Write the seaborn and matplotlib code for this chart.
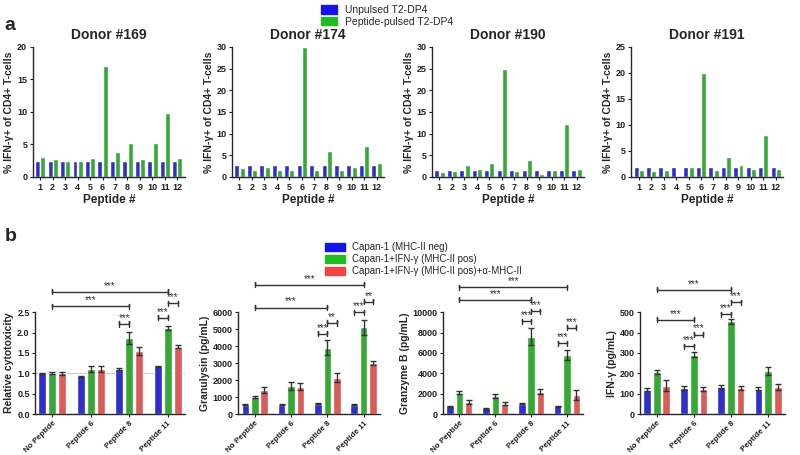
import numpy as np
import pandas as pd
import matplotlib
matplotlib.use('Agg')
import matplotlib.pyplot as plt
import seaborn as sns
from matplotlib.patches import Patch

# ──────────────────────────────────────────
# DATA
# ──────────────────────────────────────────
peptides = [str(i) for i in range(1, 13)]
donors = ['Donor #169', 'Donor #174', 'Donor #190', 'Donor #191']
donor_ymax = [20, 30, 30, 25]

unpulsed_169 = [2.5] * 12
pulsed_169 = [3.0, 2.8, 2.5, 2.4, 2.9, 17.0, 3.8, 5.2, 2.7, 5.3, 9.9, 2.9]
unpulsed_174 = [2.8] * 12
pulsed_174 = [2.0, 1.7, 2.4, 1.7, 1.5, 30.0, 1.6, 5.9, 1.5, 2.3, 7.2, 3.2]
unpulsed_190 = [1.5] * 12
pulsed_190 = [1.2, 1.4, 2.8, 1.8, 3.3, 25.0, 1.4, 4.0, 0.6, 1.6, 12.3, 1.8]
unpulsed_191 = [2.0] * 12
pulsed_191 = [1.4, 1.1, 1.3, 0.0, 1.9, 20.0, 1.4, 3.8, 2.3, 1.5, 8.0, 1.5]

groups_b = ['No Peptide', 'Peptide 6', 'Peptide 8', 'Peptide 11']
conditions = ['Capan-1 (MHC-II neg)', 'Capan-1+IFN-γ (MHC-II pos)',
              'Capan-1+IFN-γ (MHC-II pos)+α-MHC-II']

cyto_blue = [1.0, 0.93, 1.1, 1.17]
cyto_green = [1.0, 1.1, 1.86, 2.1]
cyto_red = [1.0, 1.1, 1.55, 1.65]
cyto_err = [[0.01, 0.01, 0.02, 0.01], [0.02, 0.07, 0.15, 0.05], [0.03, 0.07, 0.1, 0.04]]

gnly_blue = [550, 550, 600, 550]
gnly_green = [1000, 1650, 3900, 5100]
gnly_red = [1400, 1600, 2150, 3000]
gnly_err = [[30, 30, 30, 30], [40, 220, 450, 450], [180, 200, 250, 120]]

gzmb_blue = [750, 550, 1000, 750]
gzmb_green = [2100, 1750, 7600, 5800]
gzmb_red = [1150, 1000, 2200, 1850]
gzmb_err = [[60, 50, 60, 60], [150, 200, 800, 450], [200, 150, 250, 500]]

ifng_blue = [120, 128, 135, 125]
ifng_green = [205, 290, 455, 210]
ifng_red = [140, 125, 128, 133]
ifng_err = [[8, 8, 6, 8], [10, 12, 12, 20], [25, 10, 8, 15]]

# significance brackets: (group_a, hue_a, group_b, hue_b, height, label)
cyto_sig = [(0, 1, 2, 1, 2.64, '***'), (0, 1, 3, 1, 3.0, '***'), (2, 0, 2, 1, 2.21, '***'),
            (3, 0, 3, 1, 2.36, '***'), (3, 1, 3, 2, 2.72, '***')]
gnly_sig = [(0, 1, 2, 1, 6270, '***'), (0, 1, 3, 1, 7600, '***'), (2, 0, 2, 1, 4730, '***'),
            (2, 1, 2, 2, 5360, '**'), (3, 0, 3, 1, 6000, '***'), (3, 1, 3, 2, 6610, '**')]
gzmb_sig = [(0, 1, 2, 1, 11200, '***'), (0, 1, 3, 1, 12450, '***'), (2, 0, 2, 1, 9100, '***'),
            (2, 1, 2, 2, 10100, '***'), (3, 0, 3, 1, 6950, '***'), (3, 1, 3, 2, 8470, '***')]
ifng_sig = [(0, 1, 1, 1, 462, '***'), (0, 1, 2, 1, 610, '***'), (1, 0, 1, 1, 333, '***'),
            (1, 1, 1, 2, 390, '***'), (2, 0, 2, 1, 490, '***'), (2, 1, 2, 2, 548, '***')]

BLUE, GREEN, RED = '#1414e6', '#22bb22', '#f04545'

# ──────────────────────────────────────────
# STYLE
# ──────────────────────────────────────────
sns.set_style('ticks')
plt.rcParams['font.family'] = ['Liberation Sans', 'DejaVu Sans']
plt.rcParams['axes.linewidth'] = 1.0
plt.rcParams['xtick.major.size'] = 2.5
plt.rcParams['ytick.major.size'] = 2.5

fig = plt.figure(figsize=(8, 4.55), dpi=100)

def style_axis(ax, xsize=6.5):
    sns.despine(ax=ax)
    for lbl in ax.get_xticklabels() + ax.get_yticklabels():
        lbl.set_fontweight('bold')
    ax.tick_params(axis='y', labelsize=6.5, pad=1.5, colors='#222222')
    ax.tick_params(axis='x', labelsize=xsize, pad=1.5, colors='#222222')

# ──────────────────────────────────────────
# PANEL a
# ──────────────────────────────────────────
a_left = [0.041, 0.290, 0.540, 0.789]
a_series = [(unpulsed_169, pulsed_169), (unpulsed_174, pulsed_174),
            (unpulsed_190, pulsed_190), (unpulsed_191, pulsed_191)]

for i, (donor, (unp, pul)) in enumerate(zip(donors, a_series)):
    ax = fig.add_axes([a_left[i], 0.611, 0.19, 0.286])
    df = pd.DataFrame({
        'peptide': peptides * 2,
        'value': unp + pul,
        'group': ['Unpulsed T2-DP4'] * 12 + ['Peptide-pulsed T2-DP4'] * 12,
    })
    sns.barplot(data=df, x='peptide', y='value', hue='group', order=peptides,
                palette=[BLUE, GREEN], width=0.85, gap=0.06, errorbar=None,
                legend=False, ax=ax)
    ax.set_xlim(-0.6, 11.6)
    ax.set_ylim(0, donor_ymax[i])
    ax.set_yticks(np.arange(0, donor_ymax[i] + 1, 5))
    ax.set_title(donor, fontsize=10, fontweight='bold', pad=6)
    ax.set_xlabel('Peptide #', fontsize=8.5, fontweight='bold', labelpad=2)
    ax.set_ylabel('% IFN-γ+ of CD4+ T-cells', fontsize=7.5, fontweight='bold', labelpad=2)
    style_axis(ax)

fig.legend(handles=[Patch(color=BLUE, label='Unpulsed T2-DP4'),
                    Patch(color=GREEN, label='Peptide-pulsed T2-DP4')],
           loc='upper left', bbox_to_anchor=(0.392, 1.005), frameon=False,
           fontsize=7.5, handlelength=1.5, handleheight=0.9, labelspacing=0.15,
           borderpad=0.2)

fig.text(0.006, 0.935, 'a', fontsize=14, fontweight='bold')
fig.text(0.006, 0.47, 'b', fontsize=14, fontweight='bold')

# ──────────────────────────────────────────
# PANEL b
# ──────────────────────────────────────────
b_panels = [
    ('Relative cytotoxicity', [cyto_blue, cyto_green, cyto_red], cyto_err, cyto_sig, 2.5, 0.5),
    ('Granulysin (pg/mL)', [gnly_blue, gnly_green, gnly_red], gnly_err, gnly_sig, 6000, 1000),
    ('Granzyme B (pg/mL)', [gzmb_blue, gzmb_green, gzmb_red], gzmb_err, gzmb_sig, 10000, 2000),
    ('IFN-γ (pg/mL)', [ifng_blue, ifng_green, ifng_red], ifng_err, ifng_sig, 500, 100),
]
b_left = [0.044, 0.298, 0.554, 0.800]
b_width = [0.187, 0.177, 0.175, 0.181]

for k, (ylabel, series, errs, sigs, ymax, step) in enumerate(b_panels):
    ax = fig.add_axes([b_left[k], 0.09, b_width[k], 0.224])
    df = pd.DataFrame({
        'group': groups_b * 3,
        'value': series[0] + series[1] + series[2],
        'cond': [c for c in conditions for _ in groups_b],
    })
    sns.barplot(data=df, x='group', y='value', hue='cond', order=groups_b,
                hue_order=conditions, palette=[BLUE, GREEN, RED],
                width=0.78, gap=0.2, errorbar=None, legend=False, ax=ax)

    # bar centres from the drawn containers
    centers = [[b.get_x() + b.get_width() / 2 for b in cont] for cont in ax.containers]
    for h in range(3):
        ax.errorbar(centers[h], series[h], yerr=[errs[h], errs[h]], fmt='none',
                    ecolor='#333333', elinewidth=1.0, capsize=2, capthick=1.0)

    if k == 0:
        ax.axhline(1.0, color='#cccccc', lw=0.8, zorder=0.5)

    cap = ymax * 0.025
    for ga, ha, gb, hb, y, lab in sigs:
        x1, x2 = centers[ha][ga], centers[hb][gb]
        ax.plot([x1, x1, x1, x2, x2, x2], [y - cap, y + cap, y, y, y + cap, y - cap],
                color='#333333', lw=1.0, clip_on=False)
        ax.text((x1 + x2) / 2, y + cap * 0.4, lab, ha='center', va='bottom',
                fontsize=7, color='#333333', clip_on=False)

    ax.set_xlim(-0.45, 3.45)
    ax.set_ylim(0, ymax)
    ax.set_yticks(np.arange(0, ymax + step / 2, step))
    if k == 0:
        ax.set_yticklabels([f'{v:.1f}' for v in np.arange(0, ymax + step / 2, step)])
    ax.set_xlabel('')
    ax.set_ylabel(ylabel, fontsize=7.5, fontweight='bold', labelpad=2)
    ax.set_xticks(range(4))
    ax.set_xticklabels(groups_b, rotation=45, ha='right', rotation_mode='anchor')
    style_axis(ax, xsize=5.8)

fig.legend(handles=[Patch(color=c, label=l) for c, l in zip([BLUE, GREEN, RED], conditions)],
           loc='upper left', bbox_to_anchor=(0.398, 0.483), frameon=False,
           fontsize=7, handlelength=2.0, handleheight=0.9, labelspacing=0.2,
           borderpad=0.2)

plt.savefig('out.png', dpi=100)
plt.close()
